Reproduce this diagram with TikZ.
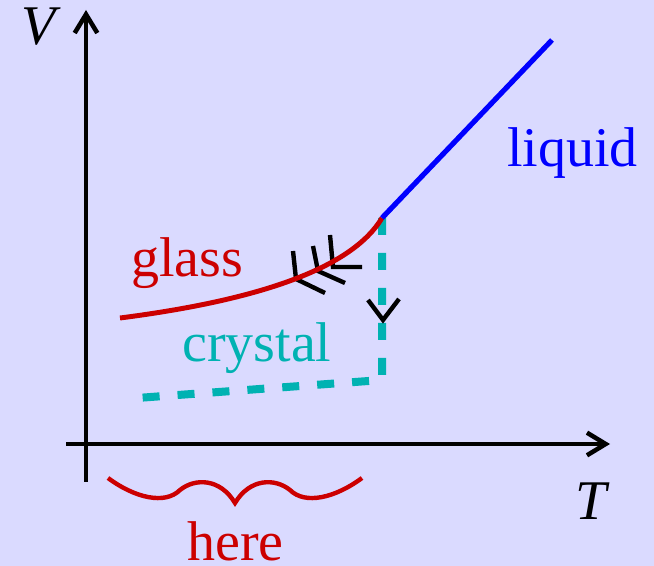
\documentclass[tikz,border=0pt]{standalone}
\usepackage{fontspec}
\setmainfont{Liberation Serif}
\usetikzlibrary{arrows.meta}
\definecolor{BgLav}   {RGB}{218,218,255}
\definecolor{GlassRed}{RGB}{204,0,0}
\definecolor{LiqBlue} {RGB}{0,0,255}
\definecolor{CrysTeal}{RGB}{0,178,178}
\tikzset{
  ax/.style={line width=3.4pt,-{Straight Barb[length=14pt,width=17pt]}},
  lbl/.style={anchor=base west,inner sep=0pt,font=\fontsize{42}{48}\selectfont},
  chev/.style={line width=3.3pt,black},
  crys/.style={CrysTeal,line width=6pt,dash pattern=on 12.75pt off 13.5pt},
  glass/.style={GlassRed,line width=3.7pt},
}

\begin{document}
\begin{tikzpicture}[x=0.75pt,y=-0.75pt]
\fill[BgLav] (0,0) rectangle (654,566);
\useasboundingbox (0,0) rectangle (654,566);
% axes
\draw[ax] (86,482)--(86,10);
\draw[ax] (66,444)--(610,444);
\node[lbl] (V) at (21,45) {\textit{V}};
\node[lbl] (T) at (575,520) {\textit{T}};
% crystal branch
\coordinate (K) at (382,218);
\draw[crys] (K)--(382,380)--(137,398);
\draw[chev] (368,300)--(383,320)--(399,299);
% glass branch
\draw[chev] (293,251)--(296,279)--(325,293);
\draw[chev] (313,246)--(318,271)--(345,283);
\draw[chev] (330,235)--(333,267)--(362,267);
\draw[glass] (120,318) .. controls (260,300) and (352,268) .. (K);
% liquid
\draw[LiqBlue,line width=3.9pt] (K)--(552,40);
% labels
\node[lbl,LiqBlue]  (liq)  at (507,167) {liquid};
\node[lbl,GlassRed] (gls)  at (131,277) {glass};
\node[lbl,CrysTeal] (crs)  at (182,362) {crystal};
\node[lbl,GlassRed] (here) at (187,561) {here};
% brace
\draw[glass,line width=3.3pt] (108,478) .. controls (135,498) and (165,505) .. (180,490)
  .. controls (195,478) and (220,478) .. (235,503)
  .. controls (250,478) and (275,478) .. (290,490)
  .. controls (305,505) and (335,498) .. (362,478);
\end{tikzpicture}
\end{document}
